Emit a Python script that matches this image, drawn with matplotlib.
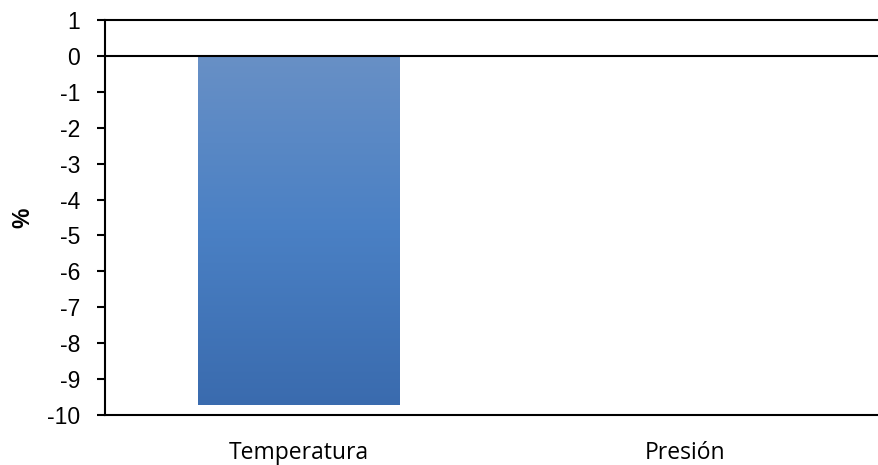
import matplotlib
matplotlib.use("Agg")
import matplotlib.pyplot as plt
import numpy as np
from matplotlib.colors import LinearSegmentedColormap

categories = ["Temperatura", "Presión"]
values = [-9.72, -0.03]
y_ticks = list(range(-10, 2))

fig = plt.figure(figsize=(8.79, 4.65), dpi=100)
ax = fig.add_axes([105 / 879, 1 - 415 / 465, 1 - 105 / 879, 395 / 465])

x = np.arange(len(categories))
bars = ax.bar(x, values, width=0.52, color="#4F81BD", zorder=2)

# vertical gradient fill inside each bar
cmap = LinearSegmentedColormap.from_list("barfill", ["#3A6BAE", "#4A80C4", "#6890C6"])
grad = np.linspace(0, 1, 256).reshape(-1, 1)
for b in bars:
    x0, w = b.get_x(), b.get_width()
    y0, h = b.get_y(), b.get_height()
    lo, hi = min(y0, y0 + h), max(y0, y0 + h)
    if hi - lo < 0.05:
        b.set_facecolor("#2F4F7F")
        continue
    im = ax.imshow(grad, extent=[x0, x0 + w, lo, hi], origin="lower",
                   aspect="auto", cmap=cmap, zorder=2.1)
    im.set_clip_path(b)
    b.set_facecolor("none")

ax.set_xlim(-0.5, 1.5)
ax.set_ylim(-10, 1)
ax.axhline(0, color="black", lw=1.5, zorder=3)

ax.set_yticks(y_ticks)
ax.set_yticklabels([str(t) for t in y_ticks], family="Liberation Sans", fontsize=16.5)
ax.tick_params(axis="y", direction="out", length=6, width=1.5, pad=12)
ax.set_xticks(x)
ax.set_xticklabels(categories, family="Open Sans", fontsize=16.5)
ax.tick_params(axis="x", length=0, pad=19)

for s in ["left", "bottom", "top"]:
    ax.spines[s].set_linewidth(1.5)
ax.spines["right"].set_visible(False)

ax.set_ylabel("%", family="Liberation Sans", fontsize=16.5, fontweight="bold", labelpad=9)

fig.savefig("out.png", dpi=100)
